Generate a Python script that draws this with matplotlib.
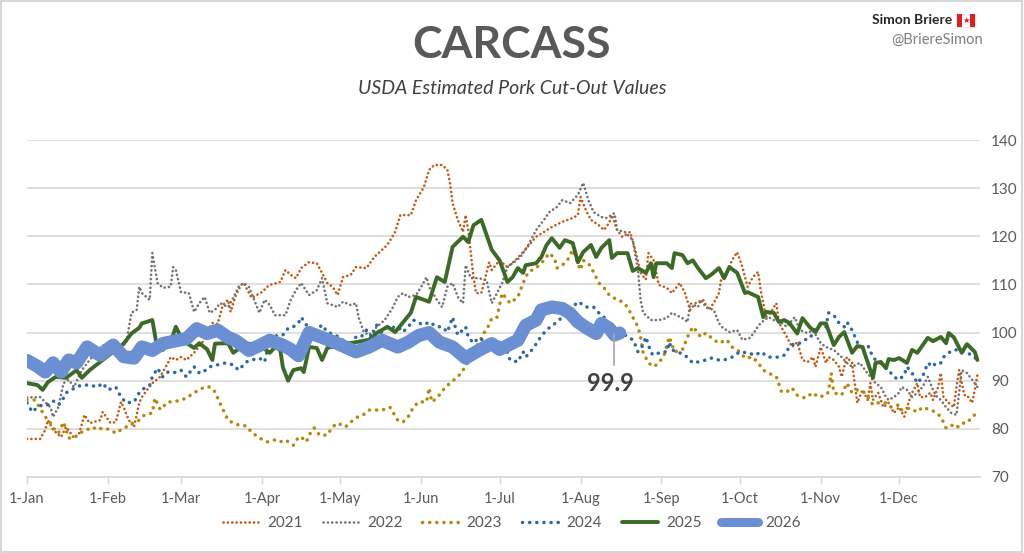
import matplotlib
matplotlib.use("Agg")
import matplotlib.pyplot as plt
from matplotlib.patches import Rectangle

plt.rcParams['font.family'] = ['Lato', 'DejaVu Sans']

# day-of-year, value
s2021 = [(0,77.9),(5,77.9),(7,79.8),(8,81.8),(10,79.8),(13,78.3),(15,80.4),(18,78.1),(20,79.1),(22,82.9),(24,81.2),
         (28,81.8),(29,83.5),(32,81.2),(34,81.4),(36,85.6),(37,84.5),(39,81.8),(41,80.4),(43,85.4),(44,86.6),(46,88.1),
         (48,89.5),(51,90.8),(54,93.7),(55,94.9),(57,94.3),(59,94.9),(61,94.3),(64,95.8),(67,97.8),(71,102),(73,101.8),
         (75,105.7),(77,106.8),(78,104.3),(80,107.8),(82,109.9),(83,110.3),(85,108.2),(86,107.2),(90,108.4),(92,109.5),
         (93,109.9),(97,110.5),(99,113),(101,112),(103,111.3),(105,113.4),(108,114.6),(111,114.4),(112,113.4),(115,110.3),
         (117,109.5),(119,107.8),(121,111.5),(124,112),(126,113.6),(130,113.4),(133,115.7),(135,116.7),(138,118.2),
         (141,120.9),(143,124.4),(147,124.4),(149,127.5),(152,130.2),(154,133.8),(156,134.8),(159,134.8),(161,133.8),
         (162,131.1),(163,126.9),(165,123.4),(167,120.9),(168,124.4),(169,121.3),(171,111.5),(172,108.2),(174,108.2),
         (176,112.4),(177,114.6),(178,113),(181,115),(184,113.6),(187,115),(190,116.7),(193,118.6),(195,119.9),(198,120.9),
         (201,121.9),(205,123),(209,123.8),(211,124.4),(212,128.2),(214,125.5),(216,123.4),(219,122.3),(221,121.3),
         (223,122.8),(224,124.4),(226,121.3),(228,119.9),(231,120.9),(233,117.1),(235,112.4),(237,111),(238,116.5),
         (240,115),(241,112.4),(242,109.9),(245,109.3),(247,108.2),(250,110.3),(252,108.2),(254,104.7),(256,106.1),
         (259,106.8),(261,104.7),(263,106.1),(265,108.2),(266,111.5),(268,112.4),(270,115),(272,116.7),(274,113.6),
         (276,109.5),(278,111.5),(280,112.6),(281,108.8),(282,106.1),(283,103.2),(285,104.3),(287,106.1),(288,102),
         (291,99.1),(293,97),(295,98),(297,94.3),(299,93.9),(301,94.9),(302,92.9),(304,97),(306,93.7),(307,94.9),
         (309,94.3),(311,92.9),(312,90.8),(314,94.9),(316,93.7),(318,85.4),(320,88.1),(322,86),(323,89.5),(324,86),
         (326,87.5),(328,84.5),(330,85.4),(332,83.3),(334,84.5),(336,82.5),(337,84.5),(339,87.5),(341,89.5),(342,86.6),
         (344,86.6),(346,87.5),(347,86),(349,88.7),(350,91.6),(351,86.6),(353,85.4),(355,84.5),(356,88.7),(357,92.2),
         (359,87),(360,87),(362,85.4),(363,88.1),(364,91.2)]

s2022 = [(0,86.5),(5,86.6),(9,84.5),(10,82.5),(12,84.5),(14,89.5),(16,90.2),(18,88.7),(21,92.2),(24,94.3),(28,97),
         (31,97.8),(34,96.4),(38,97.8),(40,104.1),(42,104.7),(43,109.5),(44,108.2),(47,106.8),(48,116.5),(50,110.3),
         (52,109.3),(55,109.5),(56,113.6),(57,113),(59,108.4),(62,108.2),(64,104.3),(66,106.1),(68,107.4),(70,104.1),
         (72,104.7),(74,106.1),(77,105.3),(79,107.2),(81,109.5),(83,110.3),(85,109.5),(87,106.8),(89,104.1),(91,106.8),
         (93,105.7),(95,103.6),(99,103.6),(101,106.8),(103,108.8),(105,110.3),(108,107.8),(111,108.8),(113,111.3),
         (115,106.1),(119,105.3),(121,106.4),(124,105.7),(126,106.1),(127,103.2),(129,100.1),(131,99.5),(134,101.2),
         (137,102.6),(140,105.1),(142,107.4),(144,108.2),(146,107.4),(149,107.8),(151,109.5),(153,111.5),(154,109.5),
         (157,106.8),(159,105.3),(161,109.5),(163,110.3),(165,107.4),(167,106.1),(168,114),(170,111.3),(173,111.3),
         (176,110.9),(178,106.1),(180,108.2),(182,110.3),(184,113.6),(186,114.4),(189,115.7),(192,118.2),(195,121.3),
         (198,123.4),(200,125),(203,126.1),(205,127.5),(208,126.9),(211,128.6),(213,131.1),(215,127.5),(217,125),
         (220,124),(222,123.8),(225,124.8),(226,121.3),(229,120.9),(232,119.2),(234,113),(235,106.8),(236,104.1),
         (239,102.6),(242,102.6),(245,103),(247,104.1),(251,103),(253,102.2),(254,106.1),(257,105.3),(258,106.8),
         (260,105.3),(263,104.7),(265,102),(266,101.2),(269,100.1),(272,100.5),(274,98.5),(277,98.9),(279,100.5),
         (281,102),(284,103.2),(286,102.6),(289,102),(291,101.2),(294,103.2),(296,100.5),(299,99.9),(301,100.5),
         (304,97.8),(306,97),(309,96.4),(312,94.9),(314,93.7),(316,92.9),(319,93.7),(321,92.2),(323,90.8),(325,89.5),
         (327,88.7),(329,86.6),(330,86),(332,86.6),(334,87.5),(335,88.7),(337,88.1),(339,86.6),(341,87.5),(343,88.7),
         (345,90.8),(347,88.1),(348,87),(350,86),(352,84.5),(354,83.3),(356,82.9),(357,87.5),(358,92.2),(360,91.6),
         (362,90.2),(364,88.7)]

s2023 = [(0,86),(3,86),(5,84.3),(7,82.5),(9,81.2),(10,80.2),(12,79.1),(14,81.4),(16,78.1),(18,78.1),(20,79.1),
         (23,79.8),(25,80.4),(27,79.8),(29,80.2),(32,79.8),(34,79.1),(36,79.8),(38,80.4),(41,81.4),(43,81.8),(45,82.9),
         (48,83.3),(49,86.4),(51,84),(54,85.6),(56,85.6),(59,86),(61,86.4),(64,87.5),(66,88.1),(68,88.7),(70,88.7),
         (72,87.7),(74,85.2),(77,81.8),(79,81.2),(81,80.8),(84,80.6),(86,79.3),(89,78.1),(92,77.3),(95,77.7),(97,77.3),
         (99,77.7),(102,76.6),(104,78.3),(105,78.3),(107,77.3),(108,78.7),(110,80.2),(112,78.7),(115,78.7),(117,80.4),
         (119,81.2),(122,80.4),(124,81.4),(126,82.3),(129,83),(131,83.9),(134,83.9),(136,83.9),(139,84.5),(142,81.8),
         (144,81.4),(146,82.5),(148,84.5),(150,85.6),(153,85.6),(154,88.5),(155,85.6),(157,86.4),(160,88.5),(162,89.5),
         (165,90.8),(167,92.2),(169,93.9),(171,96),(173,97.8),(175,99.9),(177,101.6),(178,103),(180,103.2),(182,108.2),
         (185,106.1),(188,107.4),(190,110.3),(192,112.6),(195,113.4),(198,115),(200,116.5),(202,115.5),(203,113.4),
         (205,114),(207,115),(209,117.2),(212,113),(213,115),(215,114.4),(217,112.6),(219,110.3),(221,109.3),(223,107.8),
         (226,106.8),(228,106.4),(230,105.3),(232,103.2),(234,101.2),(235,99.1),(236,95.8),(238,93.7),(240,92.9),
         (242,93.7),(244,95.3),(246,99.1),(248,96),(251,96.4),(253,99.1),(255,101.2),(257,99.9),(258,99.1),(260,99.9),
         (263,98.5),(265,97.8),(268,98.5),(270,97),(273,96),(275,94.7),(278,94.9),(280,93.7),(282,92.2),(284,91.6),
         (287,90.8),(289,87.7),(291,87.7),(293,88.5),(295,87),(298,86.4),(301,87.5),(303,86.6),(306,87),(307,87.7),
         (308,91.6),(309,87.5),(312,87),(314,89.5),(316,87.5),(318,88.1),(321,87.5),(324,85),(326,85.4),(329,85.4),
         (331,84.5),(334,85),(335,83.9),(338,84.3),(341,83.5),(343,84.5),(346,83.9),(348,83.5),(350,82.5),(352,80.2),
         (354,80.8),(356,80.2),(358,81.2),(360,81.2),(362,82.5),(364,83.3)]

s2024 = [(0,85.4),(2,83.5),(4,84.5),(6,85),(8,85),(10,85.8),(12,85),(13,85.4),(15,87.5),(17,88.1),(19,88.7),(21,89.1),
         (24,89.1),(27,88.7),(29,89.5),(31,88.1),(34,88.7),(36,86.6),(38,85.4),(41,85.6),(43,87.5),(45,88.5),(47,89.1),
         (48,90.8),(50,92.6),(52,90.8),(54,91.8),(56,91.6),(59,92.2),(61,90.8),(64,92.9),(66,91.6),(67,91.6),(70,92.9),
         (73,93.3),(76,93.7),(79,93.3),(81,92.2),(84,93.9),(86,94.3),(89,94.7),(91,93.9),(93,98.5),(96,99.5),(98,99.5),
         (100,100.9),(102,101.2),(104,102),(105,103.2),(107,101.6),(108,100.1),(111,100.5),(113,101.6),(115,100.1),
         (118,99.5),(120,98.9),(122,98),(124,97),(126,99.1),(128,99.1),(130,100.5),(132,99.1),(134,101.6),(135,99.5),
         (137,101),(139,101),(142,101.2),(144,100.1),(146,101.2),(148,102.6),(150,102),(152,101.6),(154,102.2),
         (157,101.2),(159,101.2),(161,100.1),(163,103.2),(164,101.2),(165,99.5),(168,101.2),(169,99.1),(171,97.8),
         (173,98.9),(176,98),(178,97),(181,98),(183,97.6),(185,94.3),(188,93.9),(190,96),(191,94.9),(194,96.8),
         (196,98.5),(198,99.9),(200,101),(203,102.2),(205,103.2),(208,104.7),(211,106.4),(212,106.1),(214,105.3),
         (217,105.3),(219,104.1),(221,103.2),(223,101.6),(226,100.5),(229,99.5),(232,98.5),(233,97.4),(234,96),
         (236,97.4),(237,99.1),(239,95.8),(240,95.3),(243,96),(245,96),(246,98),(247,96.4),(250,95.8),(252,95.3),
         (255,93.7),(257,93.9),(260,94.3),(262,94.7),(265,94.3),(267,94.3),(270,94.9),(273,96),(276,95.8),(279,95.3),
         (281,96),(284,94.9),(286,94.9),(288,94.9),(290,95.3),(292,97),(294,97.8),(296,97.8),(298,98.5),(300,98.9),
         (302,101.2),(304,101.6),(306,101.2),(307,104.1),(309,103.6),(311,102),(313,101.2),(314,102.2),(316,100.5),
         (318,98),(320,97),(322,97.4),(324,94.9),(325,94.3),(328,93.3),(330,92.2),(332,90.8),(334,90.2),(336,91.2),
         (337,92.9),(339,91.6),(341,89.5),(343,90.8),(345,93.7),(347,92.9),(348,93.7),(350,93.7),(351,94.9),(353,95.8),
         (355,96.4),(357,96.4),(360,95.8),(362,95.3),(364,94.3)]

s2025 = [(0,89.5),(4,89.1),(6,88.1),(8,89.7),(11,90.8),(15,90.6),(19,92.2),(21,90.6),(24,92.2),(29,94.3),(33,96),
         (37,97.7),(40,99.8),(43,101),(44,101.9),(48,102.6),(50,96.4),(52,96.4),(55,98),(57,101.2),(59,99),(62,97.5),
         (64,96.8),(66,97.8),(69,96.5),(71,94.3),(72,97.7),(77,97.8),(79,95.8),(82,97),(85,97.7),(90,97),(93,95.8),
         (95,97),(97,96.4),(98,92.8),(100,90),(102,92.2),(105,92.6),(106,91.8),(107,94.3),(108,97),(111,96.8),(113,94.3),
         (115,96.8),(120,97.5),(126,98),(131,98.5),(134,99.9),(138,101.2),(141,100.1),(147,104.1),(149,107.4),
         (154,106.4),(157,111.5),(160,110.5),(163,117.8),(167,119.9),(169,118.8),(171,122.3),(174,123.4),(178,117.2),
         (181,115),(184,110.5),(186,111.5),(188,113.4),(190,112.4),(191,114),(195,114.4),(197,115.7),(199,118.2),
         (201,119.6),(204,117.6),(206,119.2),(209,118.6),(211,114.6),(213,116.7),(216,118.2),(218,115.7),(220,117.6),
         (223,119.2),(224,115.5),(226,116.5),(230,116.5),(232,112.8),(234,113.4),(237,112.4),(239,114.4),(240,111.5),
         (241,114.4),(245,114.4),(247,113.4),(248,116.5),(251,116.1),(253,114.4),(255,115),(257,113.4),(260,111.3),
         (262,112),(265,113.4),(267,111.3),(269,113.6),(272,112.4),(275,108.2),(276,108.4),(280,107.4),(282,103.2),
         (283,104.3),(286,104.1),(288,102.2),(290,102.6),(292,102),(295,99.8),(297,103),(300,101),(302,100.1),
         (304,101.9),(306,101.9),(309,97.4),(311,99.1),(313,100.1),(316,95.8),(318,97.2),(320,97),(324,90.6),
         (325,93.7),(327,93.9),(329,92.6),(330,94.5),(332,94.3),(334,94.7),(337,93.7),(339,96.4),(341,95.8),(345,98.9),
         (347,98.2),(350,99.1),(352,97.8),(353,99.9),(355,99),(358,95.8),(360,97.6),(363,96),(364,94.3)]

s2026 = [(0,94.2),(4,93),(7,91.8),(10,93.7),(13,91.8),(16,94.3),(19,93.7),(23,97),(28,95.3),(33,97.4),(37,95),
         (41,94.7),(44,97),(48,96.3),(52,97.7),(57,98.3),(61,98.7),(65,100.8),(69,99.8),(73,100.5),(77,99),(80,98.3),
         (85,96.3),(89,97.3),(93,98.4),(98,97.4),(101,96.5),(104,95.2),(108,100),(113,99),(119,97.7),(126,96),(131,97),
         (136,98.4),(142,97),(146,98),(150,99.4),(154,100),(158,98),(163,97),(168,94.7),(173,96.3),(178,97.7),
         (181,96.5),(188,98.4),(191,101.5),(195,102.6),(197,104.7),(201,105.3),(205,105),(208,104),(211,102.2),
         (214,101.1),(218,99.8),(220,101.9),(223,100.9),(225,99.5),(227,99.9)]

month_days = [0, 31, 59, 90, 120, 151, 181, 212, 243, 273, 304, 334]
month_labels = ['1-Jan', '1-Feb', '1-Mar', '1-Apr', '1-May', '1-Jun', '1-Jul', '1-Aug', '1-Sep', '1-Oct', '1-Nov', '1-Dec']
y_ticks = [70, 80, 90, 100, 110, 120, 130, 140]
last_value = 99.9

fig = plt.figure(figsize=(10.24, 5.53), dpi=100)
ax = fig.add_axes([27/1024, 1-477/553, 953/1024, 337/553])

# round dots: tiny dash + round cap
styles = {
    '2021': dict(color='#C55A11', lw=1.9, ls=(0, (0.05, 1.6)), zorder=2),
    '2022': dict(color='#737373', lw=1.9, ls=(0, (0.05, 1.6)), zorder=2),
    '2023': dict(color='#B38A0A', lw=2.5, ls=(0, (0.05, 2.0)), zorder=3),
    '2024': dict(color='#2D69A8', lw=2.5, ls=(0, (0.05, 2.0)), zorder=3),
    '2025': dict(color='#3B6B26', lw=2.8, ls='-', zorder=4),
    '2026': dict(color='#6B8FD3', lw=9.5, ls='-', zorder=5),
}
series = {'2021': s2021, '2022': s2022, '2023': s2023, '2024': s2024, '2025': s2025, '2026': s2026}

for name, pts in series.items():
    xs = [p[0] for p in pts]
    ys = [p[1] for p in pts]
    st = styles[name]
    ax.plot(xs, ys, color=st['color'], lw=st['lw'], linestyle=st['ls'], zorder=st['zorder'],
            label=name, solid_capstyle='round', solid_joinstyle='round', dash_capstyle='round')

ax.set_xlim(0, 365)
ax.set_ylim(70, 140)
ax.set_yticks(y_ticks)
ax.yaxis.tick_right()
ax.tick_params(axis='y', length=0, pad=8, labelsize=11, labelcolor='#595959')
ax.set_xticks(month_days)
ax.set_xticklabels(month_labels)
ax.tick_params(axis='x', length=5, width=1, color='#D9D9D9', pad=6, labelsize=10.5, labelcolor='#595959')
ax.grid(axis='y', color='#D9D9D9', lw=1.2)
ax.set_axisbelow(True)
for sp in ['top', 'left', 'right']:
    ax.spines[sp].set_visible(False)
ax.spines['bottom'].set_color('#D9D9D9')
ax.spines['bottom'].set_linewidth(1.2)

# last value callout
last_day = s2026[-1][0] - 2
ax.plot([last_day, last_day], [99.6, 93.3], color='#A6A6A6', lw=1.2, zorder=6)
ax.text(last_day - 1.5, 89.4, f'{last_value}', ha='center', va='center', fontsize=17, fontweight='bold',
        color='#404040', zorder=6)

fig.text(0.5, 1-45/553, 'CARCASS', ha='center', va='center', fontsize=32, fontweight='bold', color='#595959')
fig.text(0.5, 1-88/553, 'USDA Estimated Pork Cut-Out Values', ha='center', va='center', fontsize=14,
         style='italic', color='#404040')

fig.text(952/1024, 1-20/553, 'Simon Briere', ha='right', va='center', fontsize=10, fontweight='bold', color='#262626')
fig.text(983/1024, 1-40/553, '@BriereSimon', ha='right', va='center', fontsize=10.5, color='#7F7F7F')
# small Canadian flag
fx, fy, fw, fh = 957/1024, 1-27/553, 18/1024, 13/553
fig.patches.append(Rectangle((fx, fy), fw, fh, transform=fig.transFigure, facecolor='white', edgecolor='#E0E0E0', lw=0.5))
fig.patches.append(Rectangle((fx, fy), fw*0.27, fh, transform=fig.transFigure, facecolor='#E02020', lw=0))
fig.patches.append(Rectangle((fx+fw*0.73, fy), fw*0.27, fh, transform=fig.transFigure, facecolor='#E02020', lw=0))
fig.text(fx+fw/2, fy+fh/2, '\u2605', ha='center', va='center', fontsize=6, color='#E02020', family=['DejaVu Sans'])

leg = fig.legend(loc='center', bbox_to_anchor=(0.5, 1-523/553), ncol=6, frameon=False, fontsize=11,
                 handlelength=2.4, handletextpad=0.5, columnspacing=1.3, labelcolor='#595959')
leg.get_lines()[-1].set_linewidth(6.5)

fig.patches.append(Rectangle((0.001, 0.002), 0.997, 0.996, transform=fig.transFigure, fill=False,
                             edgecolor='#D0D0D0', lw=1.2))

fig.savefig('out.png', dpi=100, facecolor='white')
